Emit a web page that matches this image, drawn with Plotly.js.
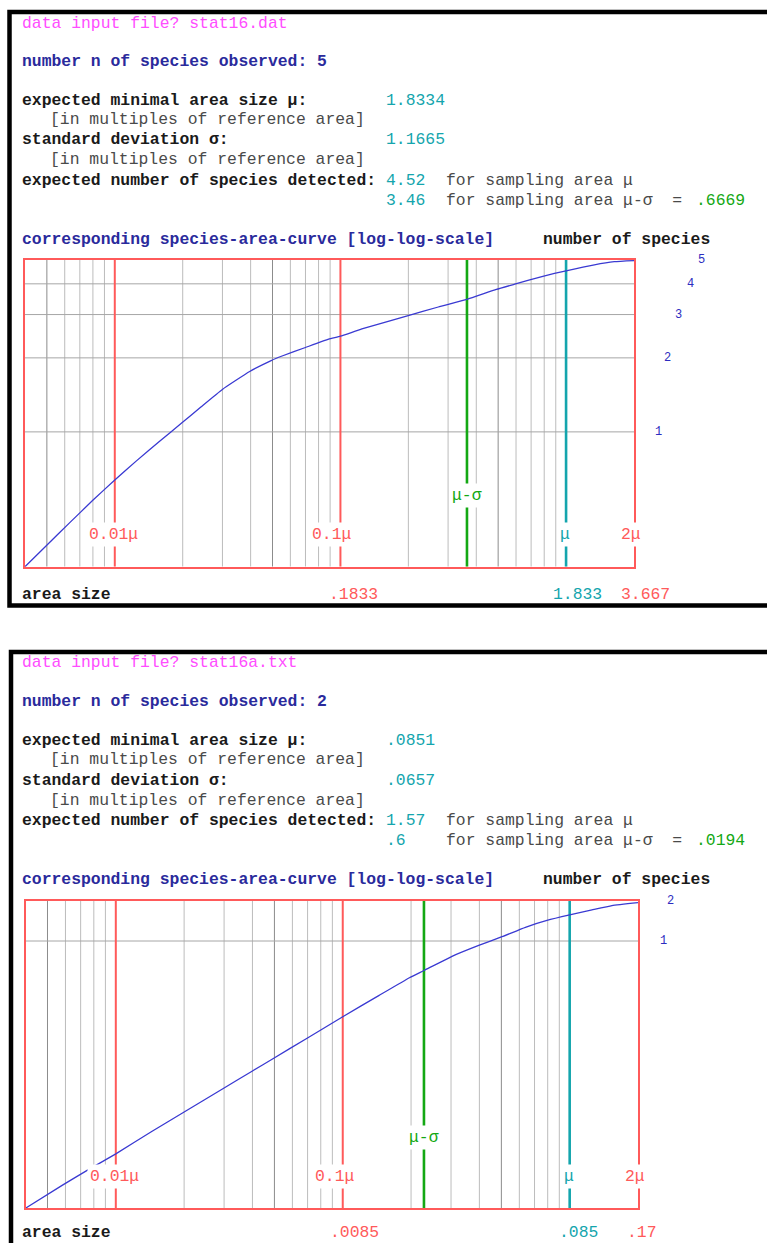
<!DOCTYPE html>
<html>
<head>
<meta charset="utf-8">
<script src="https://cdn.plot.ly/plotly-3.0.1.min.js"></script>
<style>
  html, body { margin: 0; padding: 0; background: #ffffff; }
  #chart { width: 767px; height: 1243px; }
</style>
</head>
<body>
<div id="chart"></div>
<script>
// ---------- run 1: stat16.dat ----------
const file1 = 'stat16.dat';
const nObserved1 = 5;
const mu1 = 1.8334;
const sigma1 = 1.1665;
const muMinusSigma1 = 0.6669;
const expAtMu1 = 4.52;
const expAtMuSigma1 = 3.46;
const valueText1 = { mu: '1.8334', sigma: '1.1665', expMu: '4.52', expMuSigma: '3.46', muSigma: '.6669' };
const area1 = [0.007334, 0.00897, 0.01155, 0.01465, 0.018334, 0.0228, 0.02888, 0.03638, 0.04413,
  0.05495, 0.07262, 0.09042, 0.1011, 0.1283, 0.1626, 0.18334, 0.2282, 0.3629, 0.4976,
  muMinusSigma1, 0.8999, 1.085, 1.4465, mu1, 2.447, 2.999, 3.6668];
const species1 = [0.283, 0.3398, 0.4265, 0.5269, 0.6377, 0.7605, 0.9138, 1.089, 1.262,
  1.488, 1.760, 1.950, 2.035, 2.204, 2.383, 2.45, 2.621, 2.963, 3.22,
  expAtMuSigma1, 3.794, 3.986, 4.293, expAtMu1, 4.78, 4.92, 4.97];
const speciesTicks1 = [1, 2, 3, 4, 5];
const areaTickText1 = ['.1833', '1.833', '3.667'];

// ---------- run 2: stat16a.txt ----------
const file2 = 'stat16a.txt';
const nObserved2 = 2;
const mu2 = 0.0851;
const sigma2 = 0.0657;
const muMinusSigma2 = 0.0194;
const expAtMu2 = 1.57;
const expAtMuSigma2 = 0.6;
const valueText2 = { mu: '.0851', sigma: '.0657', expMu: '1.57', expMuSigma: '.6', muSigma: '.0194' };
const area2 = [0.0003404, 0.0004935, 0.000647, 0.000851, 0.00123, 0.001667, 0.0025, 0.00339,
  0.004226, 0.005927, 0.00851, 0.01226, 0.01674, muMinusSigma2, 0.02579, 0.03381, 0.04283,
  0.05429, 0.0676, mu2, 0.1067, 0.1307, 0.1702];
const species2 = [0.00975, 0.01451, 0.01915, 0.02505, 0.03706, 0.05061, 0.07671, 0.1048,
  0.1313, 0.1856, 0.2694, 0.3883, 0.5295, expAtMuSigma2, 0.7672, 0.9266, 1.077,
  1.268, 1.427, expAtMu2, 1.712, 1.844, 1.942];
const speciesTicks2 = [1, 2];
const areaTickText2 = ['.0085', '.085', '.17'];

// ---------- styling ----------
const W = 767, H = 1243;
const MONO = '"Liberation Mono", "DejaVu Sans Mono", monospace';
const FS = 16.4;
const C = {
  magenta: '#ff4dff', blue: '#2a2a9c', black: '#1a1a1a', gray: '#4a4a4a',
  cyan: '#14a5ad', green: '#14a814', red: '#ff5a5a', curve: '#3a3ad2',
  gridLight: '#bcbcbc', gridDark: '#8c8c8c', gridH: '#a6a6a6', tick: '#2c2cc0'
};
const px = x => x / W;
const py = y => 1 - y / H;

// screen geometry of each block
const geo1 = {
  frame: { left: 9.5, top: 12, bottom: 605.5 },
  plot: { left: 25, right: 634, top: 260, bottom: 566.7 },
  rows: { file: 23.3, n: 61.7, mu: 100, unit1: 119.5, sd: 140, unit2: 159.5, exp: 180, exp2: 200, curve: 239.3, foot: 594 },
  labelY: 534, labelSigmaY: 496,
  tickX: { 1: 658, 2: 667, 3: 678, 4: 690, 5: 701 },
  footX: [328, 552, 620]
};
const geo2 = {
  frame: { left: 11, top: 652, bottom: 1290 },
  plot: { left: 25.5, right: 638, top: 901, bottom: 1208.3 },
  rows: { file: 662.7, n: 701.7, mu: 740, unit1: 759.5, sd: 780, unit2: 800, exp: 820, exp2: 840, curve: 879.3, foot: 1232.5 },
  labelY: 1176, labelSigmaY: 1137.7,
  tickX: { 1: 663, 2: 670 },
  footX: [329, 558, 626]
};

const traces = [];
const annotations = [];
const shapes = [];
const layout = {
  width: W, height: H,
  margin: { l: 0, r: 0, t: 0, b: 0, pad: 0 },
  paper_bgcolor: '#ffffff', plot_bgcolor: '#ffffff',
  showlegend: false, hovermode: false
};

function txt(x, y, text, color, bold) {
  annotations.push({
    xref: 'paper', yref: 'paper', x: px(x), y: py(y),
    xanchor: 'left', yanchor: 'middle', showarrow: false, borderpad: 0,
    text: text,
    font: { family: MONO, size: FS, color: color, weight: bold ? 'bold' : 'normal' }
  });
}

function lineTrace(xs, ys, color, width, xa, ya) {
  return {
    type: 'scatter', mode: 'lines', x: xs, y: ys, xaxis: xa, yaxis: ya,
    line: { color: color, width: width }, hoverinfo: 'skip', connectgaps: false
  };
}

function panel(d, g, suffix) {
  const xa = 'x' + suffix, ya = 'y' + suffix;
  const xmin = d.area[0];
  const xmax = 2 * d.mu;
  const ymin = d.species[0];
  const ymax = d.n;

  // vertical grid at k * 10^e * mu
  const gl = { x: [], y: [] }, gd = { x: [], y: [] };
  [0.001, 0.01, 0.1, 1].forEach(b => {
    for (let k = 2; k <= 9; k++) {
      const v = k * b * d.mu;
      if (v <= xmin * 1.001 || v >= xmax * 0.999) continue;
      const tgt = (k === 5) ? gd : gl;
      tgt.x.push(v, v, null); tgt.y.push(ymin, ymax, null);
    }
  });
  traces.push(lineTrace(gl.x, gl.y, C.gridLight, 1, xa, ya));
  traces.push(lineTrace(gd.x, gd.y, C.gridDark, 1, xa, ya));

  // horizontal grid at whole species counts
  const gh = { x: [], y: [] };
  d.ticks.forEach(t => { if (t < ymax) { gh.x.push(xmin, xmax, null); gh.y.push(t, t, null); } });
  traces.push(lineTrace(gh.x, gh.y, C.gridH, 1, xa, ya));

  // decade markers 0.01 mu and 0.1 mu
  traces.push(lineTrace([0.01 * d.mu, 0.01 * d.mu, null, 0.1 * d.mu, 0.1 * d.mu],
    [ymin, ymax, null, ymin, ymax], C.red, 2, xa, ya));
  // mu - sigma and mu
  traces.push(lineTrace([d.muSigma, d.muSigma], [ymin, ymax], C.green, 2.6, xa, ya));
  traces.push(lineTrace([d.mu, d.mu], [ymin, ymax], C.cyan, 2.6, xa, ya));

  // species-area curve
  traces.push({
    type: 'scatter', mode: 'lines', x: d.area, y: d.species, xaxis: xa, yaxis: ya,
    line: { color: C.curve, width: 1.3, shape: 'spline', smoothing: 0.4 }, hoverinfo: 'skip'
  });

  const axCommon = {
    type: 'log', showline: true, mirror: true, linecolor: C.red, linewidth: 2,
    ticks: '', showticklabels: false, showgrid: false, zeroline: false, fixedrange: true
  };
  layout['xaxis' + suffix] = Object.assign({}, axCommon, {
    domain: [px(g.plot.left), px(g.plot.right)], anchor: ya,
    range: [Math.log10(xmin), Math.log10(xmax)]
  });
  layout['yaxis' + suffix] = Object.assign({}, axCommon, {
    domain: [py(g.plot.bottom), py(g.plot.top)], anchor: xa,
    range: [Math.log10(ymin), Math.log10(ymax)]
  });

  // header block
  const r = g.rows;
  txt(20.5, r.file, 'data input file? ' + d.file, C.magenta, false);
  txt(20.5, r.n, 'number n of species observed: ' + d.n, C.blue, true);
  txt(20.5, r.mu, 'expected minimal area size μ:', C.black, true);
  txt(385, r.mu, d.text.mu, C.cyan, false);
  txt(49, r.unit1, '[in multiples of reference area]', C.gray, false);
  txt(20.5, r.sd, 'standard deviation σ:', C.black, true);
  txt(385, r.sd, d.text.sigma, C.cyan, false);
  txt(49, r.unit2, '[in multiples of reference area]', C.gray, false);
  txt(20.5, r.exp, 'expected number of species detected:', C.black, true);
  txt(385, r.exp, d.text.expMu, C.cyan, false);
  txt(445, r.exp, 'for sampling area μ', C.gray, false);
  txt(385, r.exp2, d.text.expMuSigma, C.cyan, false);
  txt(445, r.exp2, 'for sampling area μ-σ  =', C.gray, false);
  txt(694.7, r.exp2, d.text.muSigma, C.green, false);
  txt(20.5, r.curve, 'corresponding species-area-curve [log-log-scale]', C.blue, true);
  txt(542, r.curve, 'number of species', C.black, true);

  // footer: area size values at 0.1 mu, mu, 2 mu
  txt(20.7, r.foot, 'area size', C.black, true);
  const footColors = [C.red, C.cyan, C.red];
  d.footText.forEach((t, i) => txt(g.footX[i], r.foot, t, footColors[i], false));

  // marker names inside the plot
  const marks = [
    { v: 0.01 * d.mu, t: '0.01μ', c: C.red, y: g.labelY, s: -1 },
    { v: 0.1 * d.mu, t: '0.1μ', c: C.red, y: g.labelY, s: -8 },
    { v: d.muSigma, t: 'μ-σ', c: C.green, y: g.labelSigmaY, s: 0 },
    { v: d.mu, t: 'μ', c: C.cyan, y: g.labelY, s: -1 },
    { v: 2 * d.mu, t: '2μ', c: C.red, y: g.labelY, s: -3 }
  ];
  marks.forEach(m => annotations.push({
    xref: xa, yref: 'paper', x: Math.log10(m.v), y: py(m.y), xshift: m.s,
    xanchor: 'center', yanchor: 'middle', showarrow: false,
    text: m.t, bgcolor: '#ffffff', borderpad: 2,
    font: { family: MONO, size: FS, color: m.c }
  }));

  // species counts beside the plot
  d.ticks.forEach(t => annotations.push({
    xref: 'paper', yref: ya, x: px(g.tickX[t]), y: Math.log10(t),
    xanchor: 'center', yanchor: 'middle', showarrow: false,
    text: String(t), font: { family: MONO, size: 12, color: C.tick }
  }));

  // black frame around the block
  shapes.push({
    type: 'rect', xref: 'paper', yref: 'paper', layer: 'above',
    x0: px(g.frame.left), x1: px(W + 40), y0: py(g.frame.bottom), y1: py(g.frame.top),
    line: { color: '#000000', width: 4.5 }, fillcolor: 'rgba(0,0,0,0)'
  });
}

panel({ file: file1, n: nObserved1, mu: mu1, muSigma: muMinusSigma1, text: valueText1,
  area: area1, species: species1, ticks: speciesTicks1, footText: areaTickText1 }, geo1, '');
panel({ file: file2, n: nObserved2, mu: mu2, muSigma: muMinusSigma2, text: valueText2,
  area: area2, species: species2, ticks: speciesTicks2, footText: areaTickText2 }, geo2, '2');

layout.annotations = annotations;
layout.shapes = shapes;

Plotly.newPlot('chart', traces, layout, { staticPlot: true, displayModeBar: false });
</script>
</body>
</html>
